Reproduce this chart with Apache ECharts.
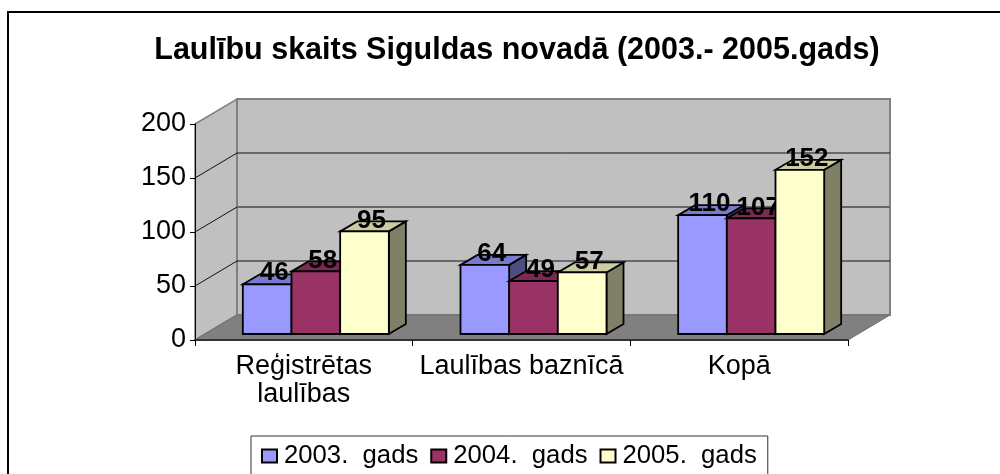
<!DOCTYPE html>
<html>
<head>
<meta charset="utf-8">
<script src="https://cdn.jsdelivr.net/npm/echarts@6/dist/echarts.min.js"></script>
<style>
html, body { margin: 0; padding: 0; background: #fff; }
#demo { width: 1000px; height: 474px; }
</style>
</head>
<body>
<div id="demo"></div>
<script>
var categories = ['Reģistrētas\nlaulības', 'Laulības baznīcā', 'Kopā'];
var years = ['2003. gads', '2004. gads', '2005. gads'];
var values2003 = [46, 64, 110];
var values2004 = [58, 49, 107];
var values2005 = [95, 57, 152];
var yTicks = [0, 50, 100, 150, 200];
var colors = ['#9999FF', '#993366', '#FFFFCC'];

var FONT = '"Liberation Sans", Arial, sans-serif';
var wallDx = 42, wallDy = -25;   // depth of the chart box
var barDx = 17, barDy = -10;     // depth of one bar

function shade(hex, k) {
    var n = parseInt(hex.slice(1), 16);
    return 'rgb(' + Math.round((n >> 16) * k) + ',' + Math.round(((n >> 8) & 255) * k) + ',' + Math.round((n & 255) * k) + ')';
}

function poly(points, fill, stroke, width) {
    return {
        type: 'polygon',
        shape: { points: points },
        style: { fill: fill, stroke: stroke, lineWidth: width || 1 }
    };
}

// side wall, back wall and floor, all taken from the axes
function renderWalls(params, api) {
    var band = api.size([1, 0])[0];
    var x0 = api.coord([0, 0])[0] - band / 2;
    var x1 = api.coord([categories.length - 1, 0])[0] + band / 2;
    var y0 = api.coord([0, 0])[1];
    var yTop = api.coord([0, yTicks[yTicks.length - 1]])[1];
    var kids = [
        poly([[x0, y0], [x0 + wallDx, y0 + wallDy], [x0 + wallDx, yTop + wallDy], [x0, yTop]], '#C0C0C0', '#808080', 1.5),
        poly([[x0 + wallDx, y0 + wallDy], [x1 + wallDx, y0 + wallDy], [x1 + wallDx, yTop + wallDy], [x0 + wallDx, yTop + wallDy]], '#C0C0C0', '#808080', 2),
        poly([[x0, y0], [x1, y0], [x1 + wallDx, y0 + wallDy], [x0 + wallDx, y0 + wallDy]], '#808080', '#707070', 1)
    ];
    yTicks.slice(1, -1).forEach(function(t) {
        var y = api.coord([0, t])[1];
        var thick = t === 100;
        kids.push({
            type: 'line',
            shape: { x1: x0, y1: y, x2: x0 + wallDx, y2: y + wallDy },
            style: { stroke: '#111', lineWidth: 1 }
        });
        kids.push({
            type: 'line',
            shape: { x1: x0 + wallDx, y1: y + wallDy, x2: x1 + wallDx, y2: y + wallDy },
            style: { stroke: thick ? '#666' : '#111', lineWidth: thick ? 2 : 1 }
        });
    });
    return { type: 'group', children: kids };
}

function makeBarRender(seriesPos, color) {
    return function(params, api) {
        var band = api.size([1, 0])[0];
        var barW = band * 0.2236;
        var base = api.coord([api.value(0), 0]);
        var top = api.coord([api.value(0), api.value(1)]);
        var left = base[0] + 12 + (seriesPos - 1.5) * barW;
        var right = left + barW;
        var yb = base[1] - 6;
        var yt = top[1] - 6;
        var line = '#000';
        return {
            type: 'group',
            children: [
                poly([[right, yb], [right + barDx, yb + barDy], [right + barDx, yt + barDy], [right, yt]], shade(color, 0.5), line, 1.8),
                poly([[left, yt], [right, yt], [right + barDx, yt + barDy], [left + barDx, yt + barDy]], shade(color, 0.8), line, 1.8),
                poly([[left, yb], [right, yb], [right, yt], [left, yt]], color, line, 1.8),
                {
                    type: 'text',
                    z2: 100,
                    style: {
                        text: String(api.value(1)),
                        x: left + barW / 2 + 7,
                        y: yt - 11,
                        align: 'center',
                        verticalAlign: 'middle',
                        font: 'bold 26px ' + FONT,
                        fill: '#000'
                    }
                }
            ]
        };
    };
}

function barSeries(name, values, pos) {
    return {
        name: name,
        type: 'custom',
        clip: false,
        z: 2 + pos,
        itemStyle: { color: colors[pos], borderColor: '#000', borderWidth: 1.5 },
        encode: { x: 0, y: 1 },
        data: values.map(function(v, i) { return [i, v]; }),
        renderItem: makeBarRender(pos, colors[pos])
    };
}

var myCharts = echarts.init(document.getElementById('demo'));
myCharts.setOption({
    animation: false,
    backgroundColor: '#fff',
    color: colors,
    textStyle: { fontFamily: FONT },
    title: {
        text: 'Laulību skaits Siguldas novadā (2003.- 2005.gads)',
        left: 512,
        top: 30,
        textAlign: 'center',
        textStyle: { fontFamily: FONT, fontSize: 30.5, fontWeight: 'bold', color: '#000' }
    },
    legend: {
        data: years,
        left: 251,
        top: 436,
        padding: [7, 11, 40, 10],
        itemWidth: 15,
        itemHeight: 13,
        itemGap: 12,
        borderColor: '#333',
        borderWidth: 1,
        backgroundColor: '#fff',
        icon: 'rect',
        formatter: function(name) { return name.replace(' ', '\u00a0\u00a0'); },
        textStyle: { fontFamily: FONT, fontSize: 25.7, color: '#000', padding: [0, 0, 0, 2] }
    },
    grid: { left: 195, top: 124, width: 653, height: 216, containLabel: false },
    xAxis: {
        type: 'category',
        data: categories,
        z: 6,
        axisLine: { lineStyle: { color: '#333', width: 2 } },
        axisTick: { show: true, length: 6, lineStyle: { color: '#000' } },
        axisLabel: { fontFamily: FONT, fontSize: 27, color: '#000', margin: 13, lineHeight: 28, interval: 0 }
    },
    yAxis: {
        type: 'value',
        min: 0,
        max: 200,
        interval: 50,
        z: 6,
        splitLine: { show: false },
        axisLine: { show: true, lineStyle: { color: '#000', width: 1 } },
        axisTick: { show: true, length: 5, lineStyle: { color: '#000' } },
        axisLabel: { fontFamily: FONT, fontSize: 27, color: '#000', margin: 9 }
    },
    graphic: [{
        type: 'polyline',
        shape: { points: [[8, 474], [8, 12], [1000, 12]] },
        style: { fill: null, stroke: '#000', lineWidth: 2 }
    }],
    series: [
        {
            name: 'walls',
            type: 'custom',
            clip: false,
            z: 1,
            silent: true,
            data: [[0, 0]],
            encode: { x: 0, y: 1 },
            renderItem: renderWalls
        },
        barSeries(years[0], values2003, 0),
        barSeries(years[1], values2004, 1),
        barSeries(years[2], values2005, 2)
    ]
});
</script>
</body>
</html>
